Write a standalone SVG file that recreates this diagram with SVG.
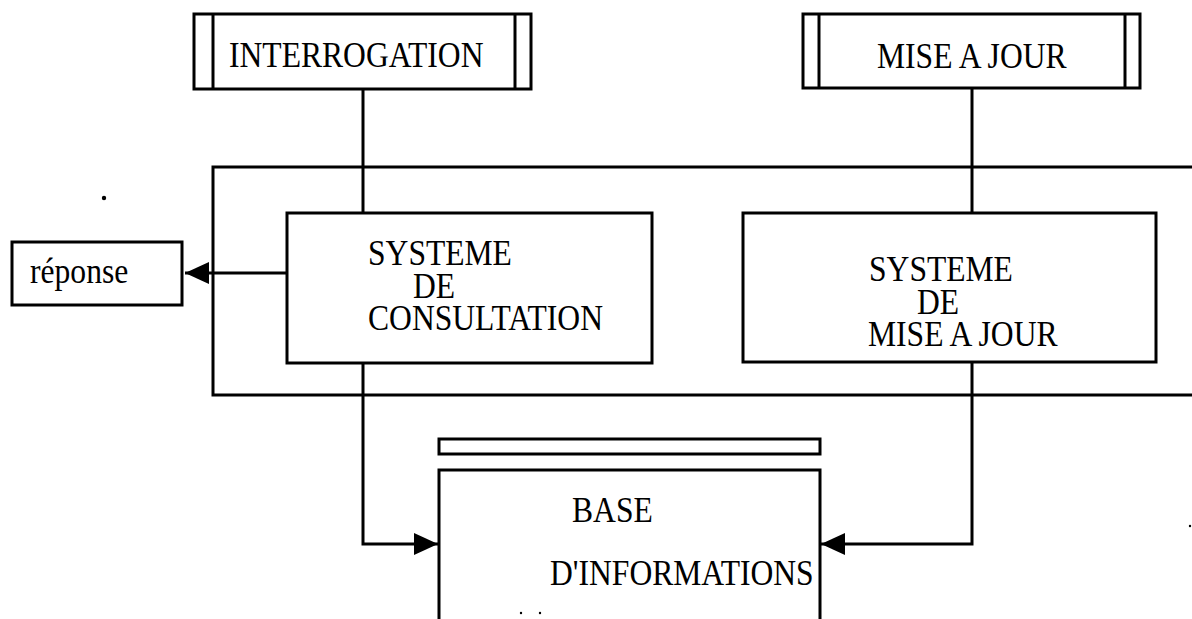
<svg xmlns="http://www.w3.org/2000/svg" width="1192" height="619" viewBox="0 0 1192 619">
<style>
.b{fill:none;stroke:#000;stroke-width:3}
.t{font-family:"Liberation Serif","Times New Roman",serif;font-size:31.6px;fill:#000}
.c{fill:none;stroke:#000;stroke-width:3}
</style>
<defs>
<marker id="ah" markerUnits="userSpaceOnUse" markerWidth="26" markerHeight="24" viewBox="0 0 26 24" refX="24" refY="12" orient="auto">
<path d="M0,1 L24,12 L0,23 Z" fill="#000"/>
</marker>
</defs>
<rect width="1192" height="619" fill="#fff"/>
<g id="container"><path class="b" d="M1195,167 H213 V395 H1195"/></g>
<g id="interrogation">
<rect class="b" x="194" y="14" width="337" height="75"/>
<line class="b" x1="213" y1="14" x2="213" y2="89"/>
<line class="b" x1="515" y1="14" x2="515" y2="89"/>
<text class="t" transform="translate(229,67) scale(1,1.15)">INTERROGATION</text>
</g>
<g id="miseajour">
<rect class="b" x="803" y="14" width="337" height="74"/>
<line class="b" x1="819" y1="14" x2="819" y2="88"/>
<line class="b" x1="1125" y1="14" x2="1125" y2="88"/>
<text class="t" transform="translate(877,68) scale(1,1.15)">MISE A JOUR</text>
</g>
<g id="consultation">
<rect class="b" x="287" y="213" width="365" height="150"/>
<text class="t" transform="translate(368,265) scale(1,1.1)">SYSTEME</text>
<text class="t" transform="translate(413,298) scale(1,1.1)">DE</text>
<text class="t" transform="translate(368,330) scale(1,1.1)">CONSULTATION</text>
</g>
<g id="systememaj">
<rect class="b" x="743" y="213" width="413" height="149"/>
<text class="t" transform="translate(869,281) scale(1,1.1)">SYSTEME</text>
<text class="t" transform="translate(917,314) scale(1,1.1)">DE</text>
<text class="t" transform="translate(868,346) scale(1,1.1)">MISE A JOUR</text>
</g>
<g id="reponse">
<rect class="b" x="12" y="242" width="170" height="63"/>
<text class="t" transform="translate(30,283) scale(1,1.15)">réponse</text>
</g>
<g id="base">
<rect class="b" x="439" y="439" width="381" height="15"/>
<path class="b" d="M439,625 V470 H820 V625"/>
<text class="t" transform="translate(572,522) scale(1,1.1)">BASE</text>
<text class="t" transform="translate(550,585) scale(1,1.1)">D'INFORMATIONS</text>
</g>
<g id="connectors">
<line class="c" x1="363" y1="89" x2="363" y2="213"/>
<line class="c" x1="972" y1="88" x2="972" y2="213"/>
<path class="c" d="M287,273 H185" marker-end="url(#ah)"/>
<path class="c" d="M363,363 V544 H438" marker-end="url(#ah)"/>
<path class="c" d="M972,362 V544 H821" marker-end="url(#ah)"/>
</g>
<g id="marks" fill="#000">
<circle cx="104" cy="198" r="2.2"/>
<circle cx="521" cy="613" r="1.2"/>
<circle cx="540" cy="613" r="1.2"/>
<circle cx="1190" cy="526" r="1.2"/>
</g>
</svg>
